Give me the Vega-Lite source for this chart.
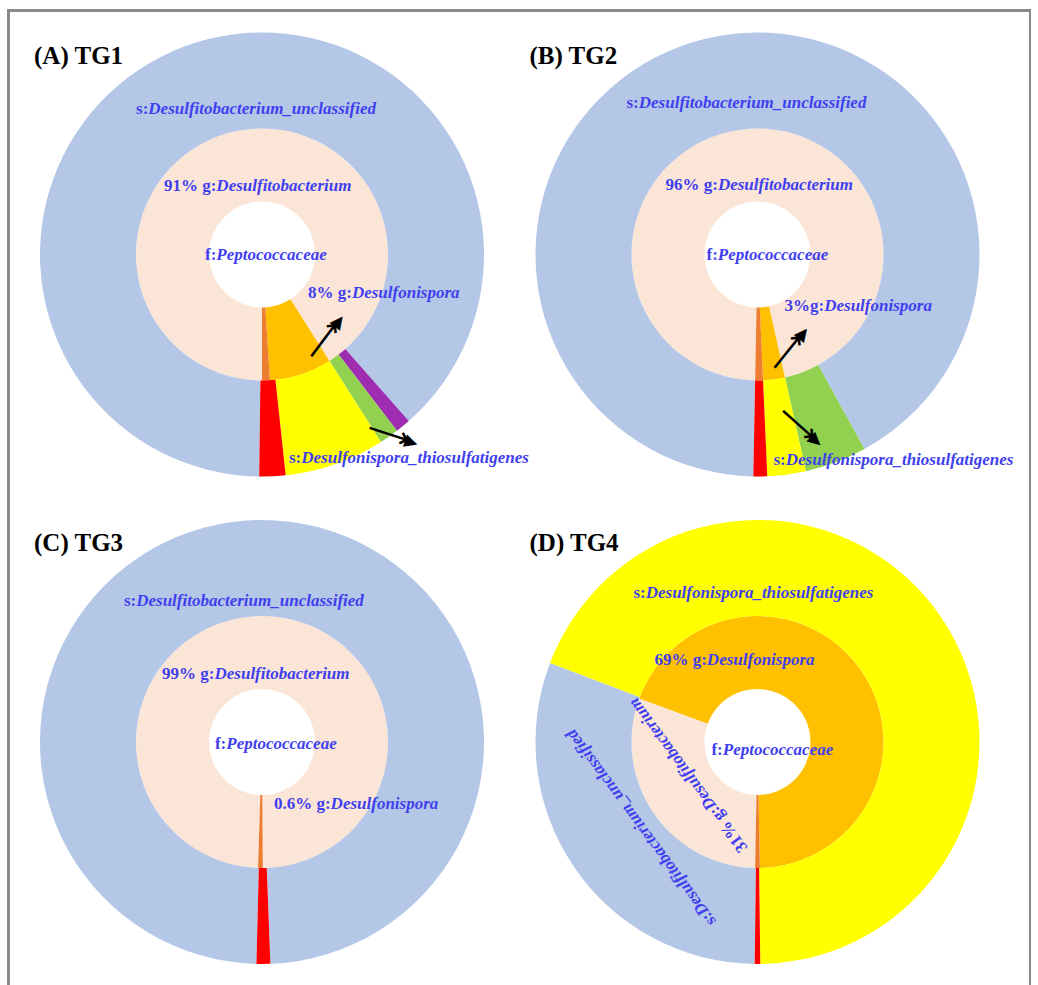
{
  "$schema": "https://vega.github.io/schema/vega-lite/v6.json",
  "width": 1022,
  "height": 990,
  "padding": {"left": 8.5, "top": 10.5, "right": 0, "bottom": 0},
  "background": "white",
  "config": {"view": {"stroke": "#8a8a8a", "strokeWidth": 3}},
  "datasets": {
    "panels": [
      {"panel": "TG1", "tag": "(A) TG1", "col": "left", "row": "top"},
      {"panel": "TG2", "tag": "(B) TG2", "col": "right", "row": "top"},
      {"panel": "TG3", "tag": "(C) TG3", "col": "left", "row": "bottom"},
      {"panel": "TG4", "tag": "(D) TG4", "col": "right", "row": "bottom"}
    ],
    "genus": [
      {"panel": "TG1", "col": "left", "row": "top", "taxon": "Desulfitobacterium", "from": 0, "to": 91},
      {"panel": "TG1", "col": "left", "row": "top", "taxon": "Desulfonispora", "from": 91, "to": 99},
      {"panel": "TG1", "col": "left", "row": "top", "taxon": "other genus", "from": 99, "to": 100},
      {"panel": "TG2", "col": "right", "row": "top", "taxon": "Desulfitobacterium", "from": 0.3, "to": 96.5},
      {"panel": "TG2", "col": "right", "row": "top", "taxon": "Desulfonispora", "from": 96.5, "to": 99.3},
      {"panel": "TG2", "col": "right", "row": "top", "taxon": "other genus", "from": 99.3, "to": 100.3},
      {"panel": "TG3", "col": "left", "row": "bottom", "taxon": "Desulfitobacterium", "from": 0.5, "to": 99.9},
      {"panel": "TG3", "col": "left", "row": "bottom", "taxon": "other genus", "from": 99.9, "to": 100.5},
      {"panel": "TG4", "col": "right", "row": "bottom", "taxon": "Desulfitobacterium", "from": 0.3, "to": 30.6},
      {"panel": "TG4", "col": "right", "row": "bottom", "taxon": "Desulfonispora", "from": 30.6, "to": 99.7},
      {"panel": "TG4", "col": "right", "row": "bottom", "taxon": "other genus", "from": 99.7, "to": 100.3}
    ],
    "species": [
      {"panel": "TG1", "col": "left", "row": "top", "taxon": "Desulfitobacterium_unclassified", "from": 0.2, "to": 88.5},
      {"panel": "TG1", "col": "left", "row": "top", "taxon": "other species C", "from": 88.5, "to": 89.6},
      {"panel": "TG1", "col": "left", "row": "top", "taxon": "other species B", "from": 89.6, "to": 91.0},
      {"panel": "TG1", "col": "left", "row": "top", "taxon": "Desulfonispora_thiosulfatigenes", "from": 91.0, "to": 98.3},
      {"panel": "TG1", "col": "left", "row": "top", "taxon": "other species A", "from": 98.3, "to": 100.2},
      {"panel": "TG2", "col": "right", "row": "top", "taxon": "Desulfitobacterium_unclassified", "from": 0.3, "to": 92.0},
      {"panel": "TG2", "col": "right", "row": "top", "taxon": "other species B", "from": 92.0, "to": 96.5},
      {"panel": "TG2", "col": "right", "row": "top", "taxon": "Desulfonispora_thiosulfatigenes", "from": 96.5, "to": 99.3},
      {"panel": "TG2", "col": "right", "row": "top", "taxon": "other species A", "from": 99.3, "to": 100.3},
      {"panel": "TG3", "col": "left", "row": "bottom", "taxon": "Desulfitobacterium_unclassified", "from": 0.4, "to": 99.4},
      {"panel": "TG3", "col": "left", "row": "bottom", "taxon": "other species A", "from": 99.4, "to": 100.4},
      {"panel": "TG4", "col": "right", "row": "bottom", "taxon": "Desulfitobacterium_unclassified", "from": 0.2, "to": 30.8},
      {"panel": "TG4", "col": "right", "row": "bottom", "taxon": "Desulfonispora_thiosulfatigenes", "from": 30.8, "to": 99.8},
      {"panel": "TG4", "col": "right", "row": "bottom", "taxon": "other species A", "from": 99.8, "to": 100.2}
    ],
    "labels": [
      {"panel": "TG1", "col": "left", "row": "top", "prefix": "s:", "name": "Desulfitobacterium_unclassified", "at": 39.47, "ring": 2.615},
      {"panel": "TG1", "col": "left", "row": "top", "prefix": "91% g:", "name": "Desulfitobacterium", "at": 40.7, "ring": 1.407},
      {"panel": "TG1", "col": "left", "row": "top", "prefix": "f:", "name": "Peptococcaceae", "at": 25, "ring": 0.862},
      {"panel": "TG1", "col": "left", "row": "top", "prefix": "8% g:", "name": "Desulfonispora", "at": 81.5, "ring": 1.616},
      {"panel": "TG1", "col": "left", "row": "top", "prefix": "s:", "name": "Desulfonispora_thiosulfatigenes", "at": 96.96, "ring": 2.842},
      {"panel": "TG2", "col": "right", "row": "top", "prefix": "s:", "name": "Desulfitobacterium_unclassified", "at": 39.4, "ring": 2.689},
      {"panel": "TG2", "col": "right", "row": "top", "prefix": "96% g:", "name": "Desulfitobacterium", "at": 41.8, "ring": 1.375},
      {"panel": "TG2", "col": "right", "row": "top", "prefix": "f:", "name": "Peptococcaceae", "at": 24.6, "ring": 0.749},
      {"panel": "TG2", "col": "right", "row": "top", "prefix": "3%g:", "name": "Desulfonispora", "at": 85.4, "ring": 1.425},
      {"panel": "TG2", "col": "right", "row": "top", "prefix": "s:", "name": "Desulfonispora_thiosulfatigenes", "at": 97.83, "ring": 2.853},
      {"panel": "TG3", "col": "left", "row": "bottom", "prefix": "s:", "name": "Desulfitobacterium_unclassified", "at": 38.4, "ring": 2.655},
      {"panel": "TG3", "col": "left", "row": "bottom", "prefix": "99% g:", "name": "Desulfitobacterium", "at": 40.3, "ring": 1.411},
      {"panel": "TG3", "col": "left", "row": "bottom", "prefix": "f:", "name": "Peptococcaceae", "at": 24.1, "ring": 0.675},
      {"panel": "TG3", "col": "left", "row": "bottom", "prefix": "0.6% g:", "name": "Desulfonispora", "at": 86.7, "ring": 1.541},
      {"panel": "TG4", "col": "right", "row": "bottom", "prefix": "s:", "name": "Desulfonispora_thiosulfatigenes", "at": 39.75, "ring": 2.627},
      {"panel": "TG4", "col": "right", "row": "bottom", "prefix": "69% g:", "name": "Desulfonispora", "at": 41.2, "ring": 1.595},
      {"panel": "TG4", "col": "right", "row": "bottom", "prefix": "f:", "name": "Peptococcaceae", "at": 21.4, "ring": 0.672}
    ],
    "radialLabels": [
      {"panel": "TG4", "col": "right", "row": "bottom", "prefix": "31% g:", "name": "Desulfitobacterium", "at": 9.43, "ring": 1.37},
      {"panel": "TG4", "col": "right", "row": "bottom", "prefix": "s:", "name": "Desulfitobacterium_unclassified", "at": 4.7, "ring": 2.561}
    ],
    "arrows": [
      {"panel": "TG1", "col": "left", "row": "top", "at": 89.56, "ring": 1.71, "heading": 306.9},
      {"panel": "TG1", "col": "left", "row": "top", "at": 90.1, "ring": 3.01, "heading": 18.1},
      {"panel": "TG2", "col": "right", "row": "top", "at": 94.8, "ring": 1.647, "heading": 308.7},
      {"panel": "TG2", "col": "right", "row": "top", "at": 96.1, "ring": 2.54, "heading": 41.7}
    ]
  },
  "encoding": {
    "x": {"field": "col", "type": "nominal", "axis": null,
          "scale": {"type": "point", "domain": ["left", "right"], "range": [253.5, 749], "padding": 0}},
    "y": {"field": "row", "type": "nominal", "axis": null,
          "scale": {"type": "point", "domain": ["top", "bottom"], "range": [244, 731.5], "padding": 0}}
  },
  "layer": [
    {
      "data": {"name": "genus"},
      "mark": {"type": "arc"},
      "encoding": {
        "theta": {"field": "from", "type": "quantitative",
                  "scale": {"domain": [0, 100], "range": [3.14159265, 9.42477796]}},
        "theta2": {"field": "to"},
        "radius": {"datum": 2, "type": "quantitative",
                   "scale": {"type": "linear", "domain": [0, 1, 2, 3], "range": [0, 53, 126, 222], "zero": false, "nice": false}},
        "radius2": {"datum": 1},
        "color": {"field": "taxon", "type": "nominal", "legend": null,
                  "scale": {
                    "domain": ["Desulfitobacterium", "Desulfonispora", "other genus",
                               "Desulfitobacterium_unclassified", "Desulfonispora_thiosulfatigenes",
                               "other species A", "other species B", "other species C"],
                    "range": ["#fbe5d6", "#ffc000", "#ed7d31", "#b4c7e7", "#ffff00", "#ff0000", "#92d050", "#9f2db1"]}}
      }
    },
    {
      "data": {"name": "species"},
      "mark": {"type": "arc"},
      "encoding": {
        "theta": {"field": "from", "type": "quantitative"},
        "theta2": {"field": "to"},
        "radius": {"datum": 3, "type": "quantitative"},
        "radius2": {"datum": 2},
        "color": {"field": "taxon", "type": "nominal", "legend": null}
      }
    },
    {
      "data": {"name": "labels"},
      "mark": {"type": "text", "font": "Liberation Serif", "fontSize": 17, "fontWeight": "bold",
               "color": "#3f3ff0", "align": "right", "baseline": "middle"},
      "encoding": {
        "theta": {"field": "at", "type": "quantitative"},
        "radius": {"field": "ring", "type": "quantitative"},
        "text": {"field": "prefix"}
      }
    },
    {
      "data": {"name": "labels"},
      "mark": {"type": "text", "font": "Liberation Serif", "fontSize": 17, "fontWeight": "bold", "fontStyle": "italic",
               "color": "#3f3ff0", "align": "left", "baseline": "middle"},
      "encoding": {
        "theta": {"field": "at", "type": "quantitative"},
        "radius": {"field": "ring", "type": "quantitative"},
        "text": {"field": "name"}
      }
    },
    {
      "data": {"name": "radialLabels"},
      "mark": {"type": "text", "font": "Liberation Serif", "fontSize": 17, "fontWeight": "bold",
               "color": "#3f3ff0", "align": "right", "baseline": "middle", "angle": 233.5},
      "encoding": {
        "theta": {"field": "at", "type": "quantitative"},
        "radius": {"field": "ring", "type": "quantitative"},
        "text": {"field": "prefix"}
      }
    },
    {
      "data": {"name": "radialLabels"},
      "mark": {"type": "text", "font": "Liberation Serif", "fontSize": 17, "fontWeight": "bold", "fontStyle": "italic",
               "color": "#3f3ff0", "align": "left", "baseline": "middle", "angle": 233.5},
      "encoding": {
        "theta": {"field": "at", "type": "quantitative"},
        "radius": {"field": "ring", "type": "quantitative"},
        "text": {"field": "name"}
      }
    },
    {
      "data": {"name": "arrows"},
      "mark": {"type": "text", "font": "DejaVu Sans", "fontSize": 30, "color": "black",
               "align": "center", "baseline": "middle", "text": "⟶", "dx": -4},
      "encoding": {
        "theta": {"field": "at", "type": "quantitative"},
        "radius": {"field": "ring", "type": "quantitative"},
        "angle": {"field": "heading", "type": "quantitative", "scale": null}
      }
    },
    {
      "data": {"name": "arrows"},
      "mark": {"type": "text", "font": "DejaVu Sans", "fontSize": 17, "color": "black",
               "align": "right", "baseline": "middle", "text": "▶", "dx": 27},
      "encoding": {
        "theta": {"field": "at", "type": "quantitative"},
        "radius": {"field": "ring", "type": "quantitative"},
        "angle": {"field": "heading", "type": "quantitative", "scale": null}
      }
    },
    {
      "data": {"name": "panels"},
      "mark": {"type": "text", "font": "Liberation Serif", "fontSize": 25, "fontWeight": "bold",
               "color": "black", "align": "left", "baseline": "middle", "dx": -228, "dy": -199},
      "encoding": {
        "text": {"field": "tag"}
      }
    }
  ]
}
